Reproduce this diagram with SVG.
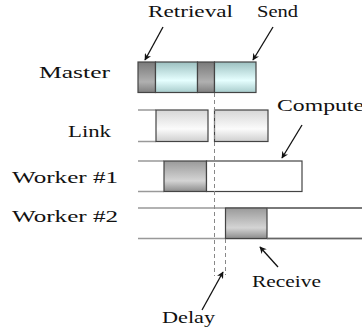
<svg xmlns="http://www.w3.org/2000/svg" width="362" height="333" viewBox="0 0 362 333">
<style>
.t{font-size:16px;fill:#111}
.tl{stroke:#999;stroke-width:1.5;fill:none}
.box{stroke:#444;stroke-width:1.2}
.arr{stroke:#111;stroke-width:1.3;fill:none;marker-end:url(#ah)}
.dash{stroke:#888;stroke-width:1;stroke-dasharray:4 3;fill:none}
</style>
<defs>
<marker id="ah" viewBox="0 0 10 10" refX="9" refY="5" markerWidth="7" markerHeight="7" orient="auto" markerUnits="userSpaceOnUse">
<path d="M0,0 L10,5 L0,10 L3,5 Z" fill="#111"/>
</marker>
<linearGradient id="gDark" x1="0" y1="0" x2="0" y2="1">
<stop offset="0" stop-color="#7a7a7a"/><stop offset="0.65" stop-color="#b0b0b0"/><stop offset="1" stop-color="#808080"/>
</linearGradient>
<linearGradient id="gCyan" x1="0" y1="0" x2="0" y2="1">
<stop offset="0" stop-color="#9cc0c0"/><stop offset="0.6" stop-color="#e6ffff"/><stop offset="1" stop-color="#a8cccc"/>
</linearGradient>
<linearGradient id="gLight" x1="0" y1="0" x2="0" y2="1">
<stop offset="0" stop-color="#d6d6d6"/><stop offset="0.6" stop-color="#fbfbfb"/><stop offset="1" stop-color="#cfcfcf"/>
</linearGradient>
<linearGradient id="gGray" x1="0" y1="0" x2="0" y2="1">
<stop offset="0" stop-color="#9a9a9a"/><stop offset="0.65" stop-color="#d4d4d4"/><stop offset="1" stop-color="#8c8c8c"/>
</linearGradient>
</defs>

<g id="labels" font-family="Liberation Serif, serif">
<text class="t" x="39" y="78" textLength="71" lengthAdjust="spacingAndGlyphs">Master</text>
<text class="t" x="68" y="137" textLength="43" lengthAdjust="spacingAndGlyphs">Link</text>
<text class="t" x="12" y="183" textLength="106" lengthAdjust="spacingAndGlyphs">Worker #1</text>
<text class="t" x="12" y="222" textLength="106" lengthAdjust="spacingAndGlyphs">Worker #2</text>
</g>

<g id="master">
<rect class="box" x="138" y="62" width="17.5" height="30.5" fill="url(#gDark)"/>
<rect class="box" x="155.5" y="62" width="42" height="30.5" fill="url(#gCyan)"/>
<rect class="box" x="197.5" y="62" width="17" height="30.5" fill="url(#gDark)"/>
<rect class="box" x="214.5" y="62" width="41.5" height="30.5" fill="url(#gCyan)"/>
</g>

<g id="link">
<line class="tl" x1="138" y1="110" x2="156" y2="110"/>
<line class="tl" x1="138" y1="141.5" x2="156" y2="141.5"/>
<rect class="box" x="156" y="110" width="52" height="31.5" fill="url(#gLight)"/>
<rect class="box" x="214.5" y="110" width="53.5" height="31.5" fill="url(#gLight)"/>
</g>

<g id="worker1">
<line class="tl" x1="138" y1="161" x2="164" y2="161"/>
<line class="tl" x1="138" y1="191.5" x2="164" y2="191.5"/>
<rect class="box" x="164" y="161" width="42.5" height="30.5" fill="url(#gGray)"/>
<rect class="box" x="206.5" y="161" width="95.5" height="30.5" fill="#fff"/>
</g>

<g id="worker2">
<line class="tl" x1="138" y1="208" x2="362" y2="208"/>
<line class="tl" x1="138" y1="238.5" x2="362" y2="238.5"/>
<rect class="box" x="225.5" y="208" width="41.5" height="30.5" fill="url(#gGray)"/>
<line x1="267" y1="208" x2="362" y2="208" stroke="#666" stroke-width="1.5"/>
<line x1="267" y1="238.5" x2="362" y2="238.5" stroke="#666" stroke-width="1.5"/>
</g>

<g id="connectors">
<line class="dash" x1="214.5" y1="93" x2="214.5" y2="276"/>
<line class="dash" x1="225.5" y1="239" x2="225.5" y2="275"/>
<line class="arr" x1="163" y1="27" x2="145" y2="60"/>
<line class="arr" x1="273" y1="27" x2="253" y2="60"/>
<line class="arr" x1="302" y1="125" x2="282" y2="158"/>
<line class="arr" x1="278" y1="267" x2="260" y2="247"/>
<line class="arr" x1="202" y1="310" x2="223" y2="272"/>
</g>

<g id="annotations" font-family="Liberation Serif, serif">
<text class="t" x="148" y="17" textLength="85" lengthAdjust="spacingAndGlyphs">Retrieval</text>
<text class="t" x="257" y="17" textLength="41" lengthAdjust="spacingAndGlyphs">Send</text>
<text class="t" x="277" y="111" textLength="87" lengthAdjust="spacingAndGlyphs">Compute</text>
<text class="t" x="252" y="287" textLength="69" lengthAdjust="spacingAndGlyphs">Receive</text>
<text class="t" x="162" y="323" textLength="53" lengthAdjust="spacingAndGlyphs">Delay</text>
</g>
</svg>
